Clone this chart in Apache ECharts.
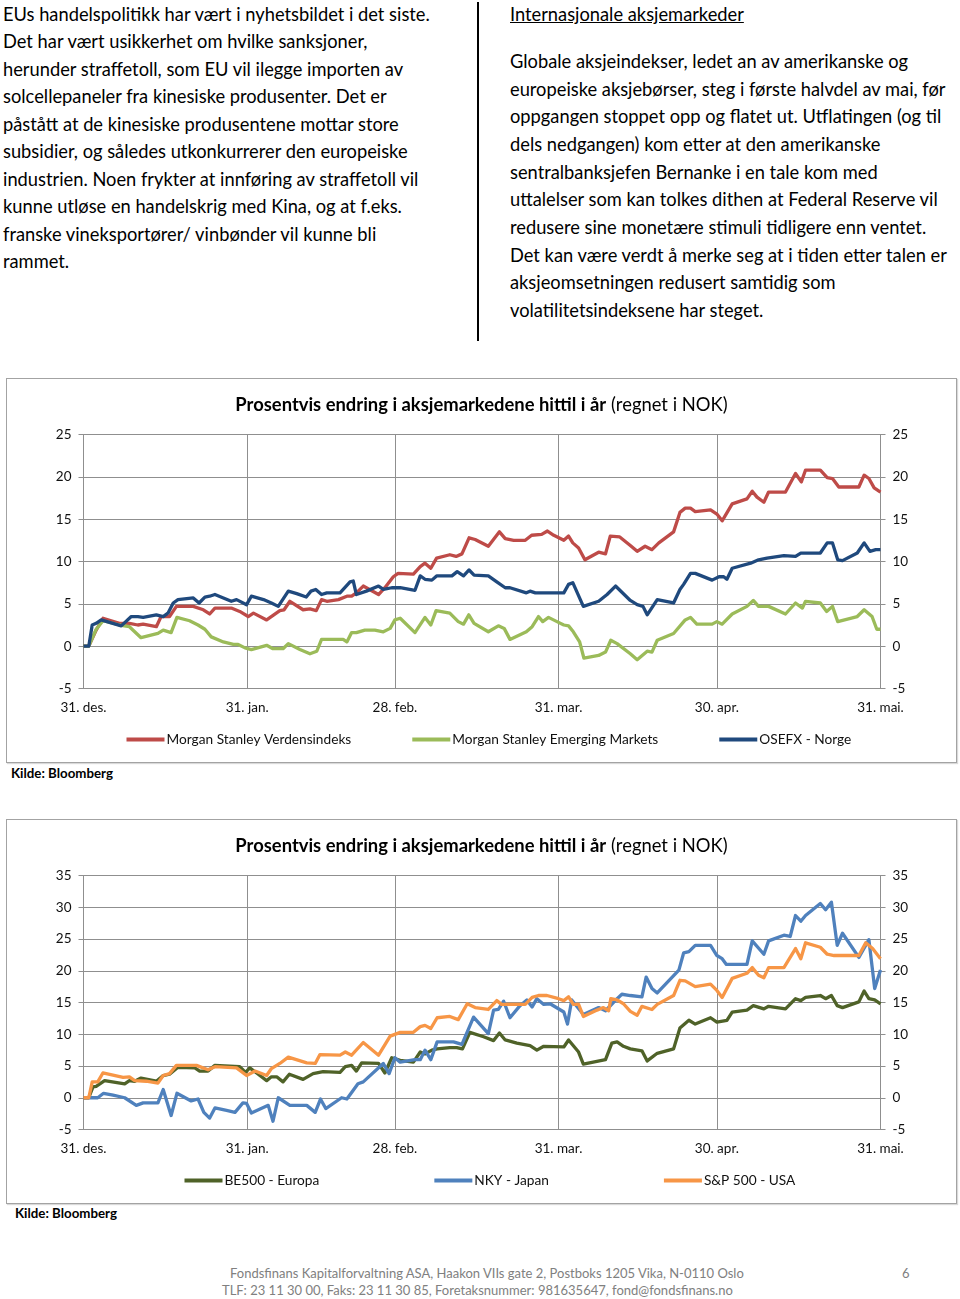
<!DOCTYPE html>
<html>
<head>
<meta charset="utf-8">
<script src="https://cdn.jsdelivr.net/npm/echarts/dist/echarts.min.js"></script>
<style>
  html, body { margin: 0; padding: 0; background: #fff; }
  body { width: 960px; height: 1299px; position: relative; overflow: hidden; font-family: Lato, "Open Sans", sans-serif; color: #000; }
  .col { position: absolute; font-size: 18.3px; white-space: nowrap; }
  #leftText { left: 3px; top: 1px; line-height: 27.45px; }
  #rightHead { left: 510px; top: 1px; line-height: 27.5px; text-decoration: underline; }
  #rightText { left: 510px; top: 48px; line-height: 27.65px; }
  #vline { position: absolute; left: 477px; top: 2px; width: 1.5px; height: 339px; background: #000; }
  .box { position: absolute; left: 6px; width: 951px; height: 385px; box-sizing: border-box; border: 1.5px solid #a3a3a3; box-shadow: 1px 1px 1px rgba(0,0,0,0.15); }
  .box .chart { position: absolute; left: 0; top: 0; right: 0; bottom: 0; }
  .kilde { position: absolute; font-size: 13.3px; font-weight: bold; }
  .foot { position: absolute; font-size: 13px; color: #808080; line-height: 17px; white-space: nowrap; }
</style>
</head>
<body>
<div id="leftText" class="col">EUs handelspolitikk har vært i nyhetsbildet i det siste.<br>Det har vært usikkerhet om hvilke sanksjoner,<br>herunder straffetoll, som EU vil ilegge importen av<br>solcellepaneler fra kinesiske produsenter. Det er<br>påstått at de kinesiske produsentene mottar store<br>subsidier, og således utkonkurrerer den europeiske<br>industrien. Noen frykter at innføring av straffetoll vil<br>kunne utløse en handelskrig med Kina, og at f.eks.<br>franske vineksportører/ vinbønder vil kunne bli<br>rammet.</div>
<div id="vline"></div>
<div id="rightHead" class="col">Internasjonale aksjemarkeder</div>
<div id="rightText" class="col">Globale aksjeindekser, ledet an av amerikanske og<br>europeiske aksjebørser, steg i første halvdel av mai, før<br>oppgangen stoppet opp og flatet ut. Utflatingen (og til<br>dels nedgangen) kom etter at den amerikanske<br>sentralbanksjefen Bernanke i en tale kom med<br>uttalelser som kan tolkes dithen at Federal Reserve vil<br>redusere sine monetære stimuli tidligere enn ventet.<br>Det kan være verdt å merke seg at i tiden etter talen er<br>aksjeomsetningen redusert samtidig som<br>volatilitetsindeksene har steget.</div>

<div class="box" style="top:378px;"><div id="chart1" class="chart"></div></div>
<div class="kilde" style="left:11px; top:765px;">Kilde: Bloomberg</div>
<div class="box" style="top:819px;"><div id="chart2" class="chart"></div></div>
<div class="kilde" style="left:15px; top:1205px;">Kilde: Bloomberg</div>

<div class="foot" style="left:230px; top:1265px;">Fondsfinans Kapitalforvaltning ASA, Haakon VIIs gate 2, Postboks 1205 Vika, N-0110 Oslo</div>
<div class="foot" style="left:222px; top:1282px;">TLF: 23 11 30 00, Faks: 23 11 30 85, Foretaksnummer: 981635647, fond@fondsfinans.no</div>
<div class="foot" style="left:902px; top:1265px;">6</div>

<script>
// x values are days since 31 Dec 2012; y values are % change year to date (NOK)
const tickDays = [0, 31, 59, 90, 120, 151];
const tickLabels = ['31. des.', '31. jan.', '28. feb.', '31. mar.', '30. apr.', '31. mai.'];
const chartTitle = 'Prosentvis endring i aksjemarkedene hittil i år';
const chartTitleSuffix = '(regnet i NOK)';

// Chart 1
const msciWorld = [[0,0],[1,0],[2.4,1.9],[3.7,3.3],[6.8,2.7],[8.7,2.7],[10.3,2.5],[11.3,2.6],[13.8,2.3],[14.7,3.5],[16.3,3.5],[17.6,4.7],[20.8,4.7],[22.7,4.3],[23.9,3.8],[24.9,4.5],[28.0,4.5],[29.6,4.1],[31.2,3.5],[32.2,3.9],[34.7,3.1],[37.2,4.2],[38.0,4.3],[39.1,5.3],[41.6,4.3],[42.9,4.4],[44.1,4.2],[45.1,5.5],[46.1,5.3],[48.3,5.5],[49.9,5.9],[50.8,5.9],[51.7,6.3],[53.0,7.1],[55.9,6.1],[57.1,6.9],[58.7,8.2],[59.6,8.6],[62.5,8.5],[63.8,9.4],[64.7,9.8],[65.8,9.2],[66.9,10.4],[69.4,10.8],[70.6,10.6],[71.7,10.9],[73.05,12.8],[74.2,12.6],[76.7,11.8],[78.8,13.5],[79.9,12.7],[81.5,12.5],[83.7,12.5],[84.9,13.1],[86.8,13.2],[87.9,13.6],[89.1,13.1],[91.0,12.5],[91.9,13.0],[92.7,12.2],[93.8,11.6],[95.0,10.2],[97.6,11.1],[98.9,10.9],[99.8,13.0],[101.6,12.9],[103.6,11.9],[104.9,11.2],[106.4,11.8],[107.7,11.4],[109.0,12.2],[111.8,13.5],[113.0,15.8],[114.0,16.3],[115.0,16.3],[115.9,15.9],[118.8,16.1],[120.0,15.6],[121.0,14.8],[122.9,16.8],[125.7,17.4],[126.7,18.3],[127.6,17.6],[128.9,17.0],[129.8,18.2],[133.0,18.2],[134.9,20.4],[136.0,19.4],[136.8,20.8],[139.6,20.8],[140.9,19.9],[141.9,19.8],[143.1,18.8],[146.9,18.8],[147.9,20.2],[148.8,19.8],[149.8,18.7],[151.0,18.2]];
const msciEM = [[0,0],[1,0],[2.4,2.0],[3.7,3.0],[6.8,2.5],[8.7,2.3],[10.9,1.0],[14.1,1.5],[15.1,1.9],[16.6,1.6],[17.7,3.4],[20.1,3.0],[21.7,2.5],[23.0,2.0],[24.2,1.1],[26.5,0.5],[28.4,0.2],[29.3,0.2],[30.6,-0.2],[31.8,-0.4],[34.7,0.1],[35.9,-0.3],[37.8,-0.3],[38.8,0.3],[41.0,-0.4],[42.9,-0.9],[44.2,-0.6],[45.1,0.8],[49.2,0.8],[49.9,0.5],[50.8,1.6],[51.7,1.6],[53.3,1.9],[55.2,1.9],[56.8,1.7],[58.1,2.1],[59.0,3.1],[60.0,3.3],[62.8,1.6],[64.7,3.4],[65.8,2.5],[66.8,4.2],[69.4,3.9],[71.0,2.9],[72.0,2.6],[73.0,3.7],[74.0,2.7],[76.7,1.7],[78.6,2.4],[79.7,2.1],[80.8,0.8],[83.9,1.7],[85.0,2.3],[86.2,3.5],[87.0,2.9],[88.1,3.4],[89.7,2.9],[91.0,2.5],[91.9,2.4],[92.8,1.7],[94.0,0.5],[94.8,-1.4],[97.6,-1.1],[98.9,-0.7],[99.9,0.7],[101.1,0.3],[103.6,-0.9],[104.9,-1.6],[106.8,-0.6],[107.7,-0.7],[108.7,0.7],[111.8,1.5],[114.0,3.1],[115.0,3.4],[116.2,2.6],[119.1,2.6],[120.0,2.9],[121.0,2.6],[122.9,3.8],[125.7,4.7],[126.9,5.4],[127.9,4.7],[129.8,4.7],[133.0,3.8],[134.9,5.1],[136.2,4.5],[136.8,5.3],[139.6,5.1],[140.8,4.1],[141.9,4.7],[142.9,2.9],[146.6,3.5],[147.9,4.3],[149.4,3.5],[150.3,2.0],[151.0,2.0]];
const osefx = [[0,0],[1,0],[1.65,2.5],[2.4,2.7],[3.35,3.1],[7.15,2.4],[9.05,3.5],[10.3,3.5],[11.3,3.4],[13.8,3.7],[15.1,3.5],[16.0,3.9],[17.0,5.1],[17.9,5.5],[20.8,5.7],[21.9,5.1],[23.0,5.8],[23.9,5.9],[24.9,6.1],[26.5,5.7],[28.0,5.3],[29.0,5.5],[30.9,4.9],[31.8,5.9],[34.1,5.5],[35.6,5.1],[36.9,4.7],[38.8,6.5],[40.4,6.2],[42.2,5.8],[43.1,6.5],[44.0,6.7],[45.1,6.1],[46.1,6.3],[48.6,6.3],[50.5,7.6],[51.1,7.7],[51.7,6.1],[53.6,6.5],[55.9,7.1],[56.8,6.7],[58.4,6.9],[60.0,6.9],[62.8,6.6],[63.8,8.3],[64.7,7.9],[66.0,7.8],[66.9,8.3],[69.8,8.3],[70.8,8.8],[72.0,8.3],[73.05,9.0],[74.0,8.4],[76.7,8.3],[78.3,7.6],[79.9,6.9],[80.8,6.9],[83.9,6.3],[84.6,6.5],[85.6,6.3],[91.0,6.3],[91.9,7.3],[92.7,7.5],[94.7,4.7],[97.6,5.3],[99.2,6.1],[100.8,7.1],[103.6,5.4],[104.9,4.9],[106.0,4.7],[106.8,3.7],[108.7,5.5],[111.8,5.1],[113.0,6.7],[113.7,7.3],[115.0,8.6],[115.9,8.6],[119.1,7.8],[120.4,8.2],[121.3,8.2],[121.9,7.9],[122.9,9.2],[126.4,9.8],[127.9,10.2],[129.5,10.4],[132.7,10.7],[134.9,10.6],[135.9,11.0],[139.6,11.0],[140.9,12.2],[141.9,12.2],[142.9,10.2],[143.8,10.1],[146.6,11.0],[147.9,12.2],[149.0,11.2],[150.1,11.4],[151.0,11.4]];

// Chart 2
const be500 = [[0,0],[1,0],[1.8,1.7],[2.4,1.8],[4.0,2.7],[7.8,2.2],[8.7,2.7],[9.7,2.6],[10.9,3.1],[13.8,2.6],[15.1,3.5],[16.3,3.7],[17.9,4.8],[21.1,4.7],[22.0,4.2],[23.6,4.2],[24.9,5.1],[29.6,4.9],[30.7,4.0],[31.5,4.7],[32.8,3.9],[34.7,2.7],[35.6,3.3],[36.6,3.3],[37.8,2.5],[39.0,3.7],[41.6,2.9],[43.5,3.8],[45.4,4.1],[48.6,4.0],[49.6,4.9],[50.8,5.1],[51.7,4.2],[52.7,5.5],[55.9,5.4],[57.1,3.9],[58.4,6.3],[60.0,5.9],[62.5,5.6],[63.8,7.2],[64.7,6.9],[66.0,7.5],[67.0,7.7],[69.4,7.9],[70.7,7.9],[71.8,7.7],[73.2,10.3],[75.8,9.6],[77.7,9.0],[78.8,10.2],[79.9,9.1],[82.1,8.6],[84.6,8.2],[85.9,7.5],[87.2,8.1],[91.0,8.0],[91.9,9.1],[93.8,7.2],[94.7,5.3],[98.9,6.0],[100.1,8.6],[101.1,8.8],[102.3,8.1],[103.6,7.7],[105.8,7.4],[106.8,5.8],[108.7,7.0],[111.8,7.7],[113.0,11.0],[114.7,12.2],[115.9,11.6],[118.8,12.6],[120.0,11.9],[121.9,12.2],[122.9,13.5],[125.7,13.8],[126.9,14.5],[128.9,14.0],[129.8,14.4],[133.0,14.0],[134.9,15.6],[135.9,15.3],[136.8,15.8],[139.6,16.1],[140.6,15.6],[141.7,16.1],[142.8,14.5],[143.8,14.2],[146.9,15.1],[147.9,16.8],[148.8,15.6],[149.9,15.4],[151.0,14.8]];
const nky = [[0,0],[2.7,0],[3.8,0.7],[5.6,0.4],[7.8,0],[10.0,-1.2],[11.3,-0.8],[14.1,-0.8],[15.1,1.3],[16.6,-2.8],[17.7,0.7],[20.4,-0.5],[21.7,-0.2],[22.8,-2.3],[23.9,-3.2],[24.9,-1.6],[27.1,-2.0],[28.7,-2.3],[30.2,-0.8],[30.9,-0.9],[31.8,-2.4],[35.0,-1.2],[35.9,-3.7],[36.9,0],[39.1,-1.2],[42.3,-1.2],[43.9,-2.3],[44.9,-0.2],[45.9,-1.7],[48.9,0],[49.9,-0.2],[52.0,2.2],[53.0,2.5],[56.8,5.4],[57.9,3.8],[59.0,6.3],[60.0,5.6],[62.8,6.0],[63.8,6.0],[64.7,7.5],[65.8,6.0],[67.0,8.8],[70.1,8.8],[71.7,8.4],[73.9,12.7],[76.7,10.1],[77.7,13.8],[78.6,13.9],[79.6,15.2],[80.8,12.6],[82.7,14.5],[84.0,15.4],[85.0,14.3],[85.9,15.6],[87.2,14.7],[88.4,14.8],[91.0,13.5],[91.7,11.6],[92.5,15.4],[94.7,13.1],[97.6,14.2],[98.9,13.7],[101.1,15.6],[102.0,16.3],[103.6,16.1],[105.8,15.9],[106.6,19.0],[107.7,17.2],[108.7,16.5],[112.8,20.1],[113.7,22.8],[114.7,23.0],[115.9,24.0],[118.8,24.0],[120.0,22.4],[121.0,21.9],[121.8,21.0],[125.7,21.0],[126.7,24.7],[128.9,22.6],[129.8,24.7],[132.7,25.6],[133.9,25.4],[134.9,28.7],[135.9,27.8],[136.8,28.7],[139.6,30.6],[140.6,29.6],[141.7,30.8],[142.8,24.0],[143.8,25.9],[146.9,22.1],[148.8,24.9],[149.9,17.2],[151.0,20.1]];
const sp500 = [[0,0],[1.0,0],[1.65,2.5],[2.7,2.5],[3.67,3.9],[7.5,3.2],[8.7,3.3],[9.7,2.7],[11.9,2.6],[14.1,2.3],[15.1,3.5],[16.3,3.8],[17.6,5.1],[21.4,5.1],[23.6,4.4],[24.9,4.9],[29.0,4.7],[30.9,3.5],[32.5,4.2],[34.7,3.5],[35.6,4.6],[37.2,5.4],[38.8,6.4],[42.3,5.5],[43.9,5.4],[44.8,6.8],[48.6,6.7],[49.6,7.2],[50.8,6.7],[53.0,8.7],[55.9,6.7],[58.1,9.7],[60.0,10.3],[62.5,10.3],[63.8,11.2],[64.7,11.4],[65.8,10.9],[67.0,12.6],[69.4,12.8],[71.0,12.3],[72.7,14.8],[74.2,14.2],[76.7,13.9],[78.3,15.3],[79.2,14.7],[83.7,14.7],[85.0,15.8],[86.2,16.1],[87.8,16.1],[90.0,15.6],[91.0,15.3],[91.9,15.9],[92.8,14.7],[93.8,14.7],[94.7,12.8],[97.3,13.8],[98.5,14.2],[99.5,13.7],[99.9,15.6],[101.1,15.4],[102.3,14.8],[103.6,13.6],[104.9,13.0],[105.8,14.4],[107.7,13.9],[108.7,14.7],[111.8,16.1],[113.0,18.5],[114.0,18.4],[115.9,17.5],[118.8,17.9],[120.0,16.9],[121.0,15.8],[122.9,18.8],[125.7,19.6],[126.7,20.5],[127.9,19.3],[128.9,18.9],[129.8,20.5],[132.7,20.5],[134.9,23.5],[135.9,21.9],[136.8,24.4],[139.6,23.7],[140.9,22.6],[142.2,22.4],[146.9,22.4],[148.2,24.4],[149.5,23.5],[151.0,21.9]];

const FONT = 'Lato';
const GRID_COLOR = '#8f8f8f';
const lastDay = tickDays[tickDays.length - 1];
const dayCats = Array.from({ length: lastDay + 1 }, (_, i) => String(i));
const isTick = (idx) => tickDays.indexOf(idx) >= 0;

function yAxisCfg(pos, yMax, showSplit) {
  return {
    type: 'value', position: pos, min: -5, max: yMax, interval: 5,
    axisLine: { show: true, lineStyle: { color: GRID_COLOR, width: 1 } },
    axisTick: { show: true, length: 5, lineStyle: { color: GRID_COLOR } },
    axisLabel: { color: '#111', fontFamily: FONT, fontSize: 13.5, margin: 12, align: pos === 'left' ? 'right' : 'left' },
    splitLine: { show: showSplit, lineStyle: { color: GRID_COLOR, width: 1 } }
  };
}

function buildChart(id, yMax, legendLeft, legendGap, seriesDefs) {
  const chart = echarts.init(document.getElementById(id), null, { renderer: 'canvas' });
  chart.setOption({
    animation: false,
    backgroundColor: '#fff',
    title: {
      text: '{b|' + chartTitle + '} {r|' + chartTitleSuffix + '}',
      left: 'center', top: 12,
      textStyle: { rich: {
        b: { fontFamily: FONT, fontWeight: 'bold', fontSize: 18.4, color: '#000' },
        r: { fontFamily: FONT, fontWeight: 'normal', fontSize: 18.4, color: '#000' }
      } }
    },
    legend: {
      bottom: 15.5, left: legendLeft, padding: 0, itemGap: legendGap, itemWidth: 38, itemHeight: 4, icon: 'rect',
      textStyle: { fontFamily: FONT, fontSize: 13.7, color: '#111', padding: [0, 0, 0, -3] },
      data: seriesDefs.map(s => s.name)
    },
    grid: { left: 76.5, right: 75.5, top: 55.5, bottom: 73.5, containLabel: false },
    xAxis: [
      {
        type: 'category', data: dayCats, boundaryGap: false,
        axisLine: { show: true, lineStyle: { color: GRID_COLOR, width: 1 } },
        axisTick: { show: false },
        axisLabel: { interval: (idx) => isTick(idx), formatter: (v) => tickLabels[tickDays.indexOf(Number(v))] || '',
          color: '#111', fontFamily: FONT, fontSize: 13.5, margin: 12 },
        splitLine: { show: true, interval: (idx) => isTick(idx), lineStyle: { color: GRID_COLOR, width: 1 } }
      },
      { type: 'value', min: 0, max: lastDay, show: false }
    ],
    yAxis: [yAxisCfg('left', yMax, true), yAxisCfg('right', yMax, false)],
    series: seriesDefs.map(s => ({
      name: s.name, type: 'line', xAxisIndex: 1, yAxisIndex: 0,
      data: s.data, showSymbol: false, symbol: 'none',
      lineStyle: { color: s.color, width: 3.3, join: 'round' },
      itemStyle: { color: s.color }
    }))
  });
}

buildChart('chart1', 25, 119.5, 61, [
  { name: 'Morgan Stanley Verdensindeks', data: msciWorld, color: '#BE4B48' },
  { name: 'Morgan Stanley Emerging Markets', data: msciEM, color: '#9BBB59' },
  { name: 'OSEFX - Norge', data: osefx, color: '#1F497D' }
]);
buildChart('chart2', 35, 177.5, 115, [
  { name: 'BE500 - Europa', data: be500, color: '#4F6228' },
  { name: 'NKY - Japan', data: nky, color: '#4F81BD' },
  { name: 'S&P 500 - USA', data: sp500, color: '#F79646' }
]);
</script>
</body>
</html>
